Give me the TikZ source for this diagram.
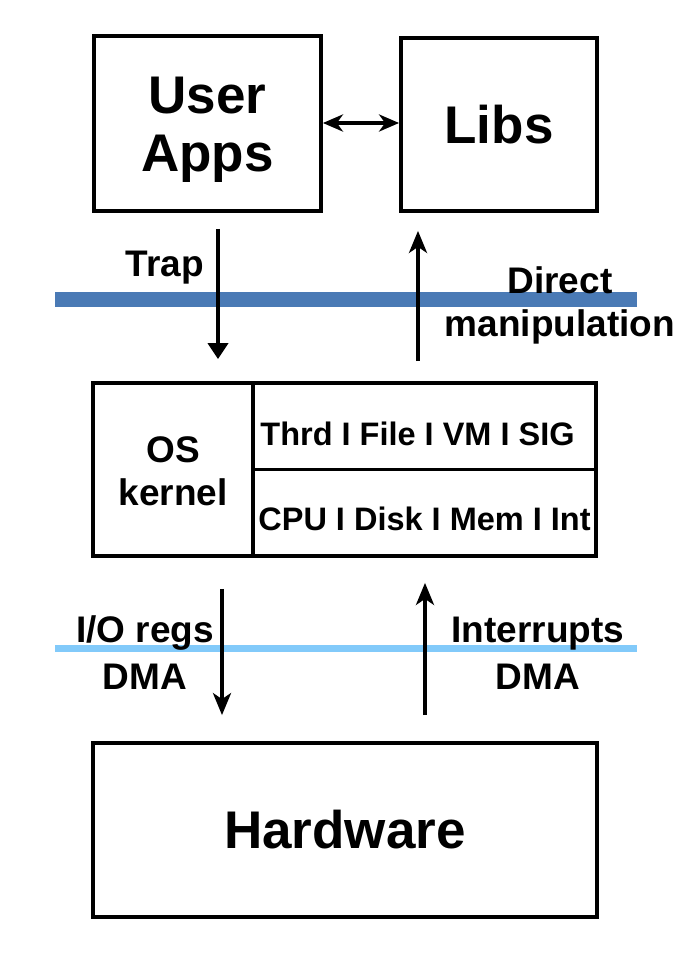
\documentclass[tikz,border=0pt]{standalone}
\usepackage{fontspec}
\setmainfont{Liberation Sans}
\usetikzlibrary{arrows.meta,positioning,calc}
\definecolor{bandDark}{HTML}{4A7AB5}
\definecolor{bandLight}{HTML}{82CAFA}
\tikzset{
  box/.style={draw, line width=3.8pt, align=center, inner sep=0pt},
  big/.style={font=\fontsize{53}{58}\selectfont\bfseries},
  mid/.style={font=\fontsize{37}{43}\selectfont\bfseries, align=center},
  small/.style={font=\fontsize{32.5}{38}\selectfont\bfseries},
  down/.style={line width=3.6pt, -{Triangle[length=16pt,width=20pt]}},
  up/.style={line width=3.6pt, -{Stealth[length=22pt,width=18pt,inset=6pt]}},
}
\begin{document}
\begin{tikzpicture}[x=1pt,y=-1pt]
\useasboundingbox (0,0) rectangle (690,972);
% separation lines
\fill[bandDark] (55,292) rectangle (637,307);
\fill[bandLight] (55,645) rectangle (637,652);
% boxes
\node[box,minimum width=227pt,minimum height=175pt] (apps) at (207.5,123.5) {};
\node[big,align=center] (appslbl) at (207.5,130) {User\\Apps};
\node[box,big,minimum width=196pt,minimum height=173pt] (libs) at (499,124.5) {Libs};
\node[box,minimum width=503pt,minimum height=173pt] (os) at (344.5,469.5) {};
\node[box,minimum width=160pt,minimum height=173pt,anchor=west] (kern) at (os.west) {};
\node[mid] (kernlbl) at ([yshift=-2pt]kern.center) {OS\\kernel};
\node[box,minimum width=343pt,minimum height=86.5pt,anchor=north east] (sys) at (os.north east) {};
\node[box,minimum width=343pt,minimum height=86.5pt,anchor=south east] (hal) at (os.south east) {};
\node[small] (syslbl) at ([xshift=-7pt,yshift=-8pt]sys.center) {Thrd I File I VM I SIG};
\node[small] (hallbl) at ([yshift=-6pt]hal.center) {CPU I Disk I Mem I Int};
\node[box,big,minimum width=504pt,minimum height=174pt] (hw) at (345,830) {Hardware};
% labels
\node[mid] (trap) at (165,268) {Trap};
\node[mid] (direct) at (560,305) {Direct\\manipulation};
\node[mid,font=\fontsize{37}{47}\selectfont\bfseries] (ioregs) at (145,653) {I/O regs\\DMA};
\node[mid,font=\fontsize{37}{47}\selectfont\bfseries] (intr) at (538,653) {Interrupts\\DMA};
% arrows
\draw[line width=4pt,{Stealth[length=20pt,width=17pt,inset=6pt]}-{Stealth[length=20pt,width=17pt,inset=6pt]}] (apps.east|-0,123) -- (libs.west|-0,123);
\draw[down,shorten <=16pt,shorten >=22pt] ([xshift=10.5pt]apps.south) -- ([xshift=10.5pt]apps.south |- os.north);
\draw[up,shorten <=20pt,shorten >=18pt] ([xshift=-81pt]libs.south |- os.north) -- ([xshift=-81pt]libs.south);
\draw[up,shorten <=31pt,shorten >=26pt] ([xshift=-122.5pt]os.south) -- ([xshift=-122.5pt]os.south |- hw.north);
\draw[up,shorten <=26pt,shorten >=25pt] ([xshift=80pt]hw.north) -- ([xshift=80pt]hw.north |- os.south);
\end{tikzpicture}
\end{document}
